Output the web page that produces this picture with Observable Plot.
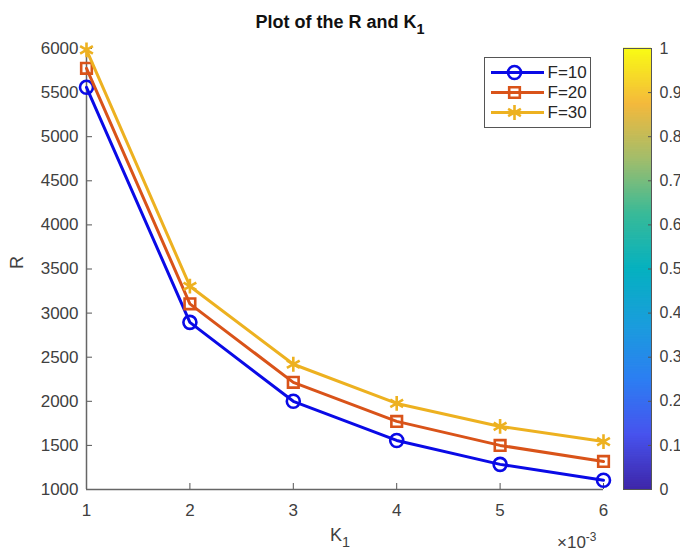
<!DOCTYPE html>
<html><head><meta charset="utf-8">
<script src="https://cdn.jsdelivr.net/npm/d3@7"></script>
<script src="https://cdn.jsdelivr.net/npm/@observablehq/plot@0.6"></script>
<style>
body{margin:0;background:#fff;font-family:"Liberation Sans",Arial,sans-serif}
#fig{position:relative;width:680px;height:548px;background:#fff;overflow:hidden}
#fig>*{position:absolute}
#title{left:0;top:11px;width:680px;text-align:center;font-weight:bold;font-size:18px;color:#111;line-height:22px}
#title sub{font-size:0.8em;vertical-align:-0.45em}
#xlab{left:0;top:524px;width:680px;text-align:center;font-size:18px;color:#404040;line-height:22px}
#xlab sub{font-size:0.8em;vertical-align:-0.45em}
#xexp{left:557px;top:527px;font-size:17px;color:#404040;line-height:20px}
#xexp sup{font-size:0.7em;vertical-align:0.55em}
</style></head><body><div id="fig"></div>
<script>
const k1 = [0.001, 0.002, 0.003, 0.004, 0.005, 0.006];
const seriesNames = ["F=10", "F=20", "F=30"];
const rF10 = [5560, 2895, 2000, 1556, 1285, 1105];
const rF20 = [5775, 3105, 2215, 1772, 1500, 1318];
const rF30 = [5985, 3305, 2420, 1976, 1715, 1543];
const yTicks = [1000, 1500, 2000, 2500, 3000, 3500, 4000, 4500, 5000, 5500, 6000];
const xTickLabels = ["1", "2", "3", "4", "5", "6"];
const cbTicks = [0, 0.1, 0.2, 0.3, 0.4, 0.5, 0.6, 0.7, 0.8, 0.9, 1];
const cbTickLabels = ["0", "0.1", "0.2", "0.3", "0.4", "0.5", "0.6", "0.7", "0.8", "0.9", "1"];
const seriesColors = ["#0a0ae6", "#d95319", "#edb120"];
const seriesSymbols = ["circle", "square", "asterisk"];
const parula = ["#3e26a8", "#4753ee", "#2c7ef2", "#1a9ddc", "#05b1c0", "#38ba98", "#a2bd6b", "#f4b93c", "#f9fb14"];

const seriesValues = [rF10, rF20, rF30];
const rows = seriesNames.flatMap((s, i) => seriesValues[i].map((r, j) => ({series: s, k: k1[j], r})));
const font = '"Liberation Sans", Arial, sans-serif';
const fig = document.getElementById("fig");

const markerR = [6.5, 6, 7];
const main = Plot.plot({
  width: 680, height: 548,
  marginTop: 48, marginBottom: 59, marginLeft: 86, marginRight: 77,
  style: {fontFamily: font, fontSize: "17px", color: "#404040", background: "transparent", overflow: "visible"},
  x: {domain: [0.001, 0.006]},
  y: {domain: [1000, 6000]},
  color: {domain: seriesNames, range: seriesColors},
  symbol: {domain: seriesNames, range: seriesSymbols},
  marks: [
    Plot.axisY({ticks: yTicks, tickFormat: d => String(d), tickSize: -6, tickPadding: 14, label: null, stroke: "#555"}),
    Plot.axisX({ticks: k1, tickFormat: d => xTickLabels[k1.indexOf(d)], tickSize: -6, tickPadding: 20, label: null, stroke: "#555"}),
    Plot.ruleX([0.001], {stroke: "#666", strokeWidth: 1.5}),
    Plot.ruleY([1000], {stroke: "#666", strokeWidth: 1.5}),
    Plot.text(["R"], {frameAnchor: "left", dx: -69, rotate: -90, fontSize: 18, fill: "#404040"}),
    ...seriesNames.flatMap((s, i) => {
      const d = rows.filter(r => r.series === s);
      return [
        Plot.line(d, {x: "k", y: "r", stroke: "series", strokeWidth: 3}),
        Plot.dot(d, {x: "k", y: "r", stroke: "series", symbol: "series", fill: "none", r: markerR[i], strokeWidth: 2.6})
      ];
    })
  ]
});
main.style.left = "0px"; main.style.top = "0px";
fig.appendChild(main);

const bandStep = 0.004;
const bands = d3.range(0, 1, bandStep);
const cb = Plot.plot({
  width: 80, height: 548,
  marginLeft: 23, marginRight: 29, marginTop: 48, marginBottom: 59,
  style: {fontFamily: font, fontSize: "16px", color: "#404040", background: "transparent", overflow: "visible"},
  x: {axis: null},
  y: {domain: [0, 1]},
  color: {type: "linear", domain: parula.map((_, i) => i / (parula.length - 1)), range: parula, interpolate: "rgb"},
  marks: [
    Plot.rect(bands, {y1: d => d, y2: d => Math.min(1, d + bandStep), fill: d => d + bandStep / 2, insetTop: -0.4, insetBottom: -0.4}),
    Plot.frame({stroke: "#555", strokeWidth: 1}),
    Plot.axisY({anchor: "right", ticks: cbTicks, tickFormat: d => cbTickLabels[cbTicks.indexOf(d)], tickSize: -4, tickPadding: 12, label: null, stroke: "#555"})
  ]
});
cb.style.left = "600px"; cb.style.top = "0px";
fig.appendChild(cb);

const legend = Plot.plot({
  width: 106, height: 70, margin: 0,
  style: {fontFamily: font, fontSize: "17px", color: "#262626", background: "#fff", overflow: "visible"},
  x: {type: "identity", axis: null},
  y: {type: "point", domain: seriesNames, range: [14, 55], padding: 0, axis: null},
  color: {domain: seriesNames, range: seriesColors},
  symbol: {domain: seriesNames, range: seriesSymbols},
  marks: [
    Plot.frame({stroke: "#555", strokeWidth: 1}),
    Plot.ruleY(seriesNames, {y: d => d, x1: 7, x2: 60, stroke: d => d, strokeWidth: 3}),
    ...seriesNames.map((s, i) => Plot.dot([s], {x: () => 30, y: d => d, stroke: d => d, symbol: d => d, fill: "none", r: markerR[i], strokeWidth: 2.6})),
    Plot.text(seriesNames, {x: () => 63, y: d => d, text: d => d, textAnchor: "start", fill: "#262626", fontSize: 17})
  ]
});
legend.style.left = "484px"; legend.style.top = "57px";
fig.appendChild(legend);

const title = document.createElement("div");
title.id = "title";
title.innerHTML = "Plot of the R and K<sub>1</sub>";
fig.appendChild(title);

const xlab = document.createElement("div");
xlab.id = "xlab";
xlab.innerHTML = "K<sub>1</sub>";
fig.appendChild(xlab);

const xexp = document.createElement("div");
xexp.id = "xexp";
xexp.innerHTML = "×10<sup>-3</sup>";
fig.appendChild(xexp);
</script>
</body></html>
